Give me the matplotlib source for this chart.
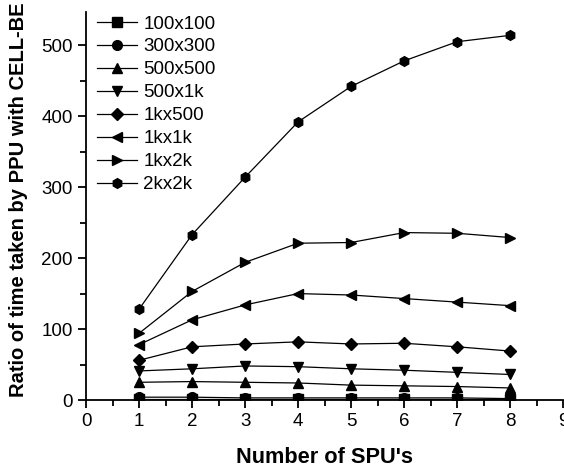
import matplotlib.pyplot as plt
from matplotlib.ticker import MultipleLocator

plt.rcParams['font.family'] = ['Liberation Sans', 'DejaVu Sans']

spus = [1, 2, 3, 4, 5, 6, 7, 8]
labels = ['100x100', '300x300', '500x500', '500x1k', '1kx500', '1kx1k', '1kx2k', '2kx2k']
markers = ['s', 'o', '^', 'v', 'D', '<', '>', 'h']
r_100x100 = [1, 1, 1, 1, 1, 1, 1, 1]
r_300x300 = [4, 4, 3, 3, 3, 3, 3, 2]
r_500x500 = [25, 26, 25, 24, 21, 20, 19, 17]
r_500x1k = [41, 44, 48, 47, 44, 42, 39, 36]
r_1kx500 = [56, 75, 79, 82, 79, 80, 75, 69]
r_1kx1k = [78, 113, 134, 150, 148, 143, 138, 133]
r_1kx2k = [94, 153, 194, 221, 222, 236, 235, 229]
r_2kx2k = [128, 233, 314, 392, 442, 478, 505, 514]
series = [r_100x100, r_300x300, r_500x500, r_500x1k, r_1kx500, r_1kx1k, r_1kx2k, r_2kx2k]

fig = plt.figure(figsize=(5.64, 4.71), dpi=100)
ax = fig.add_axes([0.1525, 0.1507, 0.846, 0.824])

for vals, lab, m in zip(series, labels, markers):
    ms = 6 if m == 'D' else 7
    ax.plot(spus, vals, color='black', lw=0.9, marker=m, markersize=ms, label=lab)

ax.set_xlim(0, 9)
ax.set_ylim(0, 547)
ax.xaxis.set_major_locator(MultipleLocator(1))
ax.xaxis.set_minor_locator(MultipleLocator(0.5))
ax.yaxis.set_major_locator(MultipleLocator(100))
ax.yaxis.set_minor_locator(MultipleLocator(50))
for s in ['top', 'right']:
    ax.spines[s].set_visible(False)
for s in ['left', 'bottom']:
    ax.spines[s].set_linewidth(1.3)
ax.tick_params(which='major', direction='out', length=6, width=1.3, labelsize=13.5)
ax.tick_params(which='minor', direction='out', length=4, width=1.3)

ax.set_xlabel("Number of SPU's", fontsize=15.7, fontweight='bold', labelpad=12)
ax.set_ylabel("Ratio of time taken by PPU with CELL-BE", fontsize=14.5, fontweight='bold')
ax.yaxis.set_label_coords(-0.122, 0.515)

ax.legend(loc='upper left', frameon=False, fontsize=13.5, handlelength=2.1,
          labelspacing=0.31, borderaxespad=0.2, handletextpad=0.35, bbox_to_anchor=(0.0, 1.02))

fig.savefig('out.png', dpi=100)
